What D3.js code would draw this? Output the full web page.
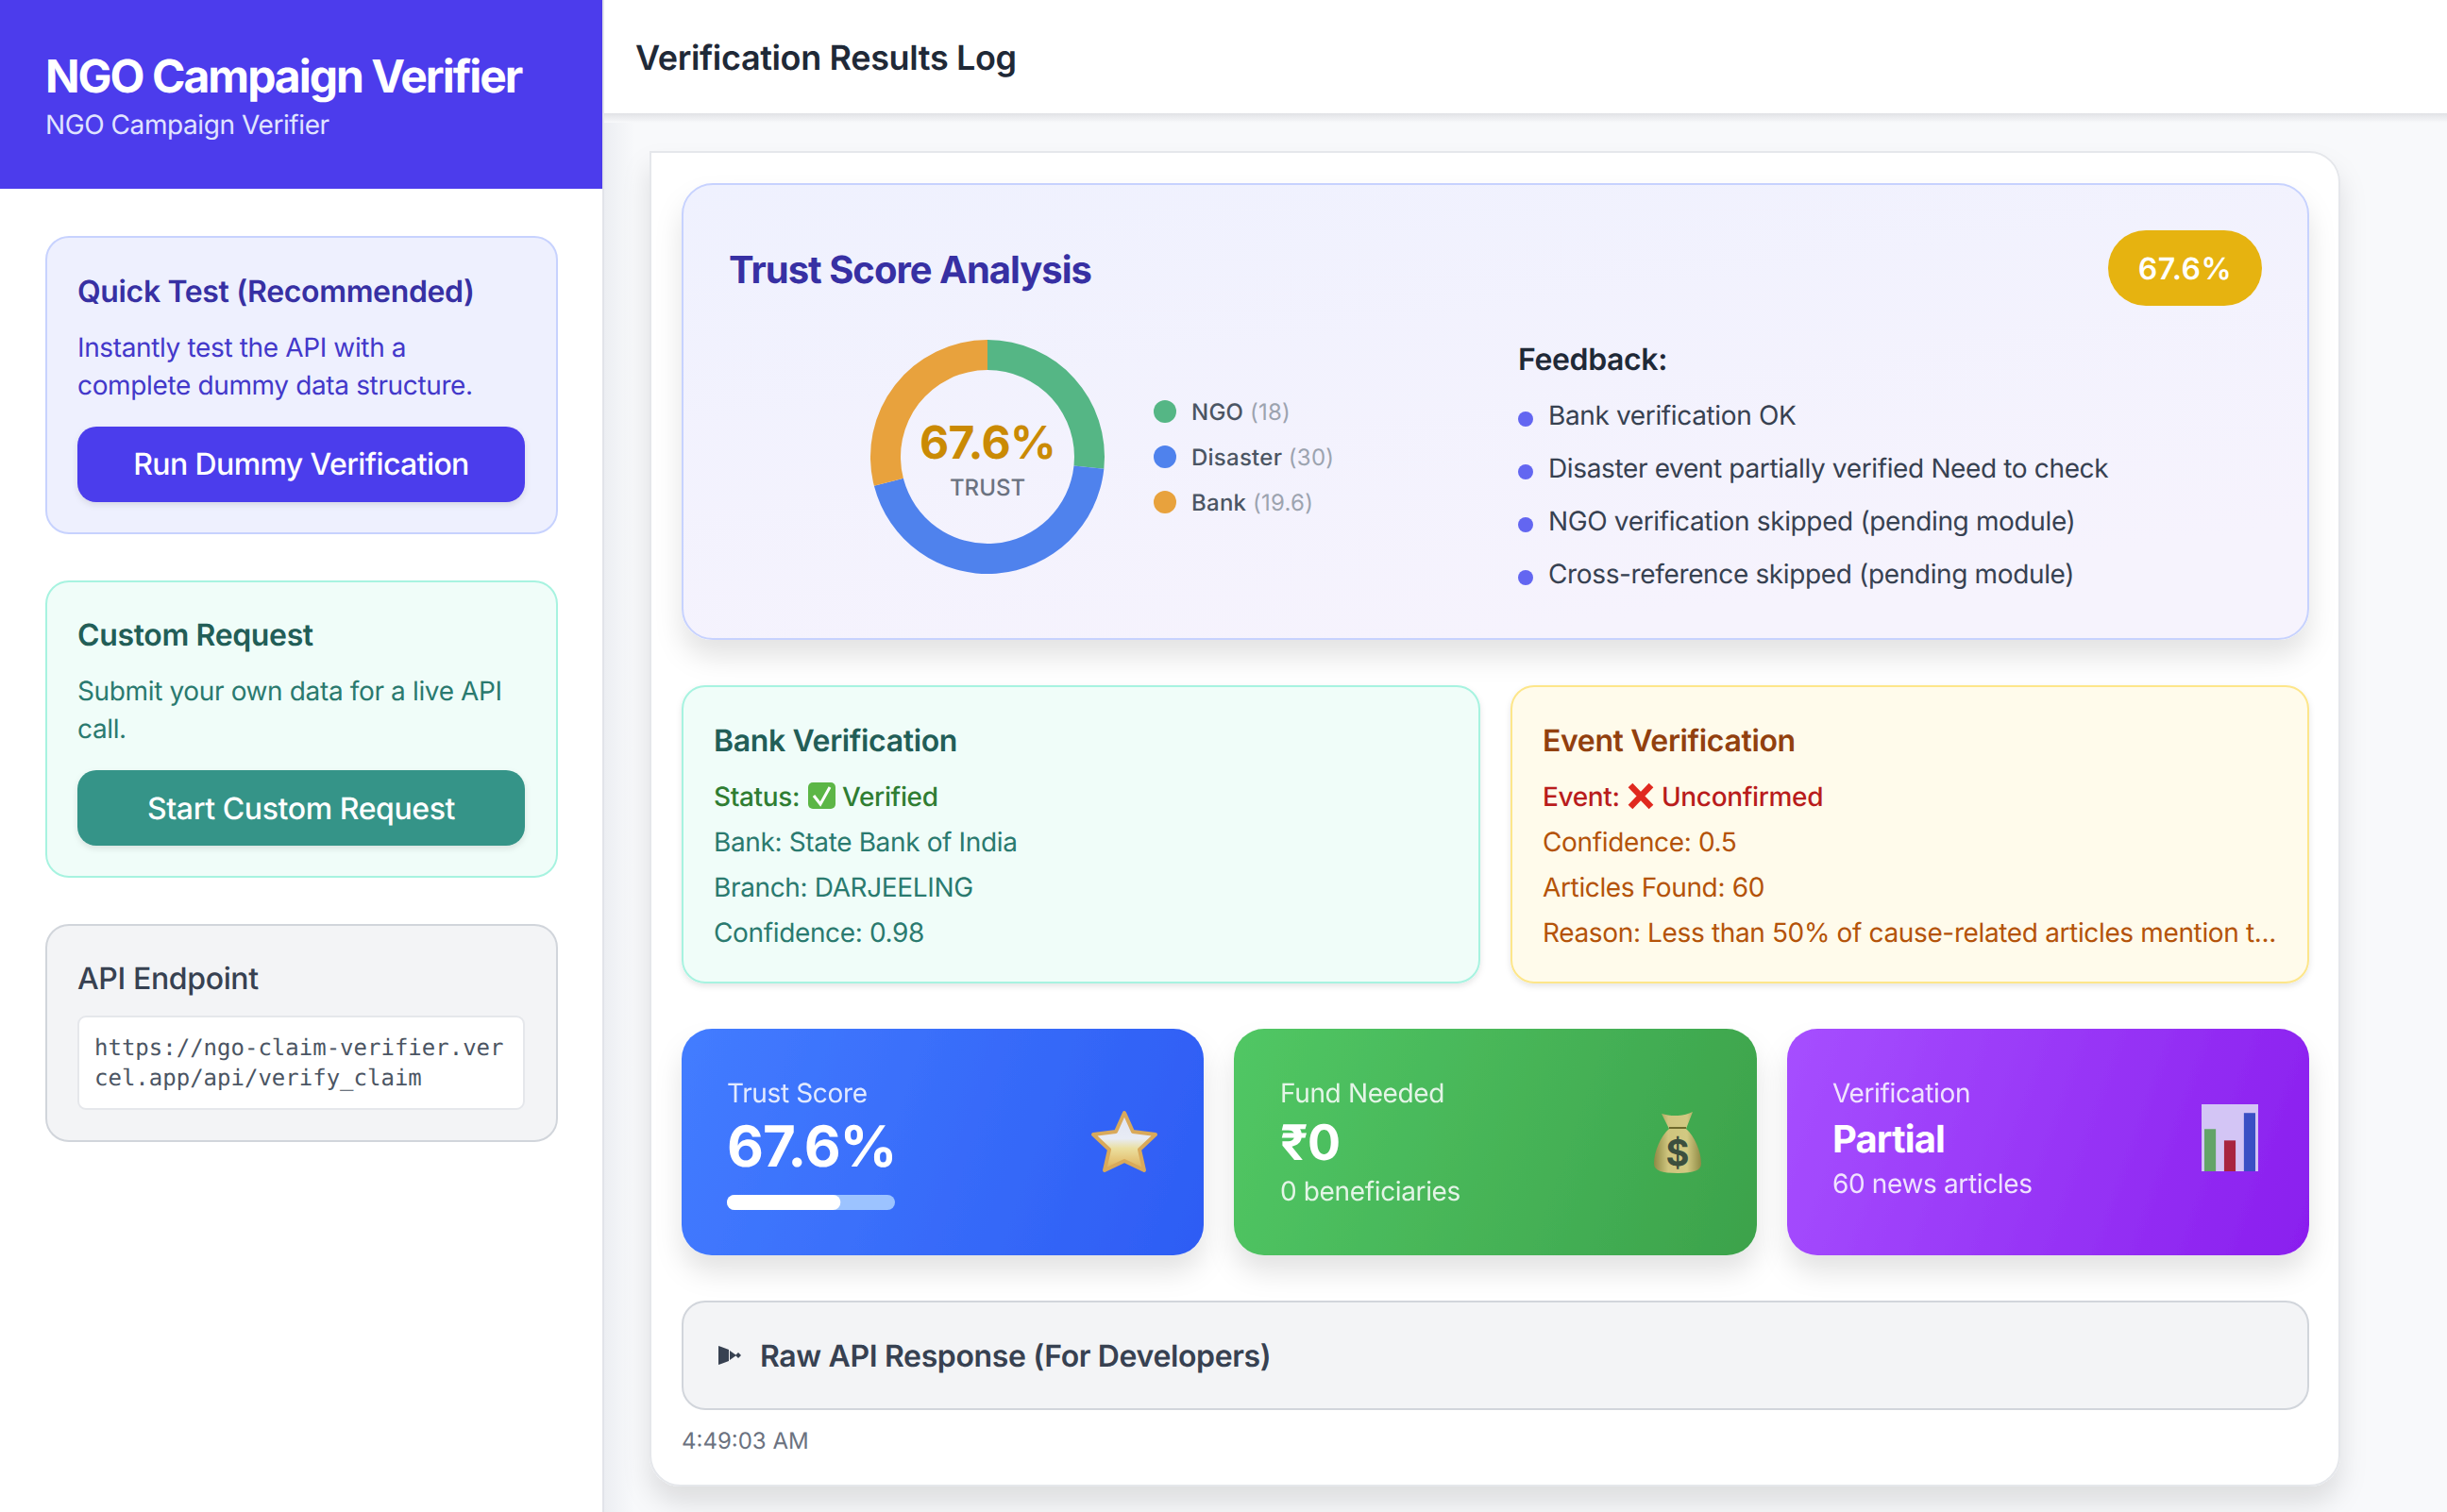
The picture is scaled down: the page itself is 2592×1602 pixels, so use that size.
<!DOCTYPE html>
<html>
<head>
<meta charset="utf-8">
<title>NGO Campaign Verifier</title>
<script src="https://cdn.jsdelivr.net/npm/d3@7"></script>
<style>
    html, body { margin: 0; padding: 0; background: #f8f9fb; overflow: hidden; }
    svg { display: block; font-family: Inter, "Noto Sans", sans-serif; text-rendering: geometricPrecision; }
</style>
</head>
<body>
<div id="chart"></div>
<script>
// trust score parts
const scoreCategories = ["NGO", "Disaster", "Bank"];
const scoreValues = [18, 30, 19.6];
const scoreColors = ["#55b685", "#4f82ed", "#e8a23d"];
const trustScore = 67.6;
const trustLabel = "67.6%";

const feedbackItems = [
    "Bank verification OK",
    "Disaster event partially verified Need to check",
    "NGO verification skipped (pending module)",
    "Cross-reference skipped (pending module)"
];
const bankLines = ["Bank: State Bank of India", "Branch: DARJEELING", "Confidence: 0.98"];
const eventLines = ["Confidence: 0.5", "Articles Found: 60", "Reason: Less than 50% of cause-related articles mention t..."];
const endpointLines = ["https://ngo-claim-verifier.ver", "cel.app/api/verify_claim"];
const iconBars = [0.63, 0.46, 0.87];
const iconBarColors = ["#63a468", "#a8243f", "#3a4fc4"];

const width = 2592;
const height = 1602;

const svg = d3.select("#chart").append("svg")
    .attr("width", width)
    .attr("height", height)
    .attr("viewBox", `0 0 ${width} ${height}`);

const defs = svg.append("defs");

function addShadow(id, dy, blur, opacity) {
    const f = defs.append("filter").attr("id", id)
        .attr("x", "-10%").attr("y", "-20%").attr("width", "120%").attr("height", "150%");
    f.append("feDropShadow")
        .attr("dx", 0).attr("dy", dy)
        .attr("stdDeviation", blur)
        .attr("flood-color", "#000")
        .attr("flood-opacity", opacity);
}
addShadow("shadowLg", 18, 14, 0.11);
addShadow("shadowSm", 3, 3, 0.1);

function addGradient(id, stops, x1, y1, x2, y2, userSpace) {
    const g = defs.append("linearGradient").attr("id", id)
        .attr("x1", x1).attr("y1", y1).attr("x2", x2).attr("y2", y2);
    if (userSpace) g.attr("gradientUnits", "userSpaceOnUse");
    stops.forEach(s => {
        g.append("stop").attr("offset", s[0]).attr("stop-color", s[1]);
    });
}

// left to right sweep with a slight downward tilt, corner to corner
function cardGradient(id, from, to, x0, y0, x1, y1) {
    const tilt = 0.35;
    const cx = (x0 + x1) / 2;
    const cy = (y0 + y1) / 2;
    const k = ((x1 - x0) / 2 + tilt * (y1 - y0) / 2) / (1 + tilt * tilt);
    addGradient(id, [[0, from], [1, to]], cx - k, cy - k * tilt, cx + k, cy + k * tilt, true);
}

addGradient("gradTrust", [[0, "#eff1fe"], [1, "#f6f3fd"]], 0, 0, 0.5, 1);
cardGradient("gradBlue", "#437cff", "#2d5cf4", 722, 1090, 1275, 1330);
cardGradient("gradGreen", "#51c764", "#3ca24b", 1307, 1090, 1861, 1330);
cardGradient("gradPurple", "#a64fff", "#8a1eee", 1893, 1090, 2446, 1330);
addGradient("gradStar", [[0, "#dfe3f2"], [0.45, "#e8ecf5"], [0.62, "#ebdf9f"], [1, "#dfae55"]], 0, 0, 0, 1);
addGradient("gradBag", [[0, "#8f8a45"], [0.3, "#cfc57e"], [0.7, "#d2c982"], [1, "#8f8a45"]], 0, 0, 1, 0);
addGradient("gradSideShade", [[0, "#eceef2"], [1, "#f8f9fb"]], 0, 0, 1, 0);
addGradient("gradHeadShade", [[0, "#dcdde1"], [1, "#f8f9fb"]], 0, 0, 0, 1);

function box(x0, y0, x1, y1, r, fill, stroke, sw, filter) {
    const rect = svg.append("rect")
        .attr("x", x0).attr("y", y0)
        .attr("width", x1 - x0).attr("height", y1 - y0)
        .attr("rx", r).attr("ry", r)
        .attr("fill", fill);
    if (stroke) rect.attr("stroke", stroke).attr("stroke-width", sw);
    if (filter) rect.attr("filter", `url(#${filter})`);
    return rect;
}

function label(x, y, str, size, weight, fill, anchor) {
    return svg.append("text")
        .attr("x", x).attr("y", y)
        .attr("font-size", size)
        .attr("font-weight", weight)
        .attr("fill", fill)
        .attr("text-anchor", anchor || "start")
        .attr("letter-spacing", size >= 28 ? -0.36 : 0)
        .text(str);
}

function shape(points, fill) {
    return svg.append("path")
        .attr("d", d3.line()(points) + "Z")
        .attr("fill", fill);
}

// page frame
svg.append("rect").attr("width", width).attr("height", height).attr("fill", "#f8f9fb");
box(640, 0, 672, 1602, 0, "url(#gradSideShade)");
box(640, 118, 2592, 130, 0, "url(#gradHeadShade)");
box(640, -10, 2602, 120, 0, "#fff");
box(-10, -10, 639, 1612, 0, "#fff", "#e2e4e9", 2);
box(0, 0, 638, 200, 0, "#4c3cec");

label(48, 98, "NGO Campaign Verifier", 48, 700, "#fff").attr("letter-spacing", -2);
label(48, 142, "NGO Campaign Verifier", 28, 400, "#e0e4ff").attr("letter-spacing", -0.42);
label(673, 74, "Verification Results Log", 36, 600, "#1f2937");

// sidebar cards
box(49, 251, 590, 565, 24, "#eef0fe", "#c7d2fe", 2);
label(82, 320, "Quick Test (Recommended)", 32, 600, "#3730a3");
label(82, 378, "Instantly test the API with a", 28, 400, "#4338ca");
label(82, 418, "complete dummy data structure.", 28, 400, "#4338ca");
box(82, 452, 556, 532, 20, "#4c3cec", null, 0, "shadowSm");
label(319, 503, "Run Dummy Verification", 32, 500, "#fff", "middle").attr("letter-spacing", -0.6);

box(49, 616, 590, 929, 24, "#f0fdf9", "#a7f3e0", 2);
label(82, 684, "Custom Request", 32, 600, "#225e57");
label(82, 742, "Submit your own data for a live API", 28, 400, "#2a7a6f");
label(82, 782, "call.", 28, 400, "#2a7a6f");
box(82, 816, 556, 896, 20, "#359488", null, 0, "shadowSm");
label(319, 868, "Start Custom Request", 32, 500, "#fff", "middle").attr("letter-spacing", -0.4);

box(49, 980, 590, 1209, 24, "#f3f4f6", "#d1d5db", 2);
label(82, 1048, "API Endpoint", 32, 500, "#374151");
box(83, 1077, 555, 1175, 8, "#fff", "#e5e7eb", 2);
svg.append("g").selectAll("text")
    .data(endpointLines)
    .enter().append("text")
    .attr("x", 100)
    .attr("y", (d, i) => 1118 + i * 32)
    .attr("font-family", "'DejaVu Sans Mono', monospace")
    .attr("font-size", 24)
    .attr("fill", "#4b5563")
    .text(d => d);

// main panel, top left corner is square in the reference
const panel = d3.path();
panel.moveTo(689, 161);
panel.lineTo(2446, 161);
panel.arcTo(2478, 161, 2478, 193, 32);
panel.lineTo(2478, 1542);
panel.arcTo(2478, 1574, 2446, 1574, 32);
panel.lineTo(721, 1574);
panel.arcTo(689, 1574, 689, 1542, 32);
panel.closePath();
svg.append("path")
    .attr("d", panel.toString())
    .attr("fill", "#fff")
    .attr("stroke", "#e5e7eb")
    .attr("stroke-width", 2)
    .attr("filter", "url(#shadowLg)");

// trust score card
box(723, 195, 2445, 677, 32, "url(#gradTrust)", "#c7d2fe", 2, "shadowLg");
label(772, 300, "Trust Score Analysis", 40, 700, "#3730a3").attr("letter-spacing", -1);
box(2233, 244, 2396, 324, 40, "#e6b310");
label(2314.5, 296, trustLabel, 32, 600, "#fff", "middle").attr("letter-spacing", 0.5);

const pie = d3.pie().sort(null);
const arc = d3.arc().innerRadius(92).outerRadius(124);
const donut = svg.append("g").attr("transform", "translate(1046,484)");
donut.selectAll("path")
    .data(pie(scoreValues))
    .enter().append("path")
    .attr("d", arc)
    .attr("fill", (d, i) => scoreColors[i]);
label(1046, 486, trustLabel, 48, 700, "#ca8a04", "middle").attr("letter-spacing", -0.7);
label(1046, 525, "TRUST", 24, 500, "#6b7280", "middle");

// donut legend
const legend = svg.append("g").selectAll("g")
    .data(scoreCategories)
    .enter().append("g")
    .attr("transform", (d, i) => `translate(1234,${436 + i * 48})`);
legend.append("circle")
    .attr("r", 12)
    .attr("fill", (d, i) => scoreColors[i]);
const legendText = legend.append("text")
    .attr("x", 28)
    .attr("y", 9)
    .attr("font-size", 24)
    .attr("font-weight", 500)
    .attr("letter-spacing", 0.25)
    .attr("fill", "#4b5563")
    .text(d => d + " ");
legendText.append("tspan")
    .attr("font-weight", 400)
    .attr("fill", "#9ca3af")
    .text((d, i) => `(${scoreValues[i]})`);

// feedback list
label(1608, 392, "Feedback:", 32, 600, "#1f2937");
const feedback = svg.append("g").selectAll("g")
    .data(feedbackItems)
    .enter().append("g")
    .attr("transform", (d, i) => `translate(0,${i * 56})`);
feedback.append("circle")
    .attr("cx", 1616).attr("cy", 444).attr("r", 8)
    .attr("fill", "#6366f1");
feedback.append("text")
    .attr("x", 1640).attr("y", 450)
    .attr("font-size", 28)
    .attr("letter-spacing", -0.36)
    .attr("fill", "#374151")
    .text(d => d);

// bank card
box(723, 727, 1567, 1041, 24, "#f0fdf9", "#a7f3e0", 2, "shadowSm");
label(756, 796, "Bank Verification", 32, 600, "#225e57");
label(756, 854, "Status:", 28, 500, "#2f7d32");
box(856, 829, 885, 857, 5, "#5cb646");
svg.append("path")
    .attr("d", d3.line()([[862, 843], [869, 852], [879, 834]]))
    .attr("fill", "none").attr("stroke", "#fff").attr("stroke-width", 3);
label(892, 854, "Verified", 28, 500, "#2f7d32");
bankLines.forEach((t, i) => label(756, 902 + i * 48, t, 28, 400, "#2a7a6f"));

// event card
box(1601, 727, 2445, 1041, 24, "#fffbeb", "#fde68a", 2, "shadowSm");
label(1634, 796, "Event Verification", 32, 600, "#92400e");
label(1634, 854, "Event:", 28, 500, "#b91c1c");
svg.append("path")
    .attr("d", "M1727,832L1749,855M1749,832L1727,855")
    .attr("fill", "none").attr("stroke", "#e0291f").attr("stroke-width", 6.5);
label(1760, 854, "Unconfirmed", 28, 500, "#b91c1c");
eventLines.forEach((t, i) => label(1634, 902 + i * 48, t, 28, 400, "#b45309"));

// metric cards
box(722, 1090, 1275, 1330, 32, "url(#gradBlue)", null, 0, "shadowLg");
box(1307, 1090, 1861, 1330, 32, "url(#gradGreen)", null, 0, "shadowLg");
box(1893, 1090, 2446, 1330, 32, "url(#gradPurple)", null, 0, "shadowLg");

label(770, 1168, "Trust Score", 28, 400, "#fff").attr("opacity", 0.85);
label(770, 1236, trustLabel, 60, 700, "#fff").attr("letter-spacing", -1);
const progress = d3.scaleLinear().domain([0, 100]).range([0, 178]);
box(770, 1266, 770 + progress(100), 1282, 8, "#9cc3ff");
box(770, 1266, 770 + progress(trustScore), 1282, 8, "#fff");

// star icon
shape([[1191, 1179], [1200, 1199], [1224, 1202], [1207, 1218], [1212, 1240], [1191, 1230],
       [1170, 1240], [1175, 1218], [1158, 1202], [1182, 1199]], "url(#gradStar)")
    .attr("stroke", "#d9a95a")
    .attr("stroke-width", 4)
    .attr("stroke-linejoin", "round");

label(1356, 1168, "Fund Needed", 28, 400, "#fff").attr("opacity", 0.85);
label(1356, 1229, "₹0", 52, 700, "#fff").attr("letter-spacing", -0.6);
label(1356, 1272, "0 beneficiaries", 28, 400, "#fff").attr("opacity", 0.85);

// money bag icon
svg.append("path")
    .attr("d", "M1760,1180C1770,1183 1783,1183 1793,1178L1786,1196C1795,1204 1802,1220 1802,1233C1802,1240 1794,1243 1777,1243C1760,1243 1752,1240 1752,1233C1752,1220 1759,1204 1768,1196Z")
    .attr("fill", "url(#gradBag)");
svg.append("path")
    .attr("d", "M1768,1195L1786,1195")
    .attr("stroke", "#6f6a2c").attr("stroke-width", 2);
svg.append("text")
    .attr("x", 1777).attr("y", 1235)
    .attr("text-anchor", "middle")
    .attr("font-size", 38)
    .attr("font-weight", 700)
    .attr("fill", "#3c4f3e")
    .text("$");

label(1941, 1168, "Verification", 28, 400, "#fff").attr("opacity", 0.85);
label(1941, 1221, "Partial", 40, 700, "#fff").attr("letter-spacing", -0.9);
label(1941, 1264, "60 news articles", 28, 400, "#fff").attr("opacity", 0.85);

// bar chart icon
box(2332, 1170, 2392, 1241, 0, "#d3c5f5");
const iconX = d3.scaleBand().domain(d3.range(iconBars.length)).range([2335, 2389]).paddingInner(0.42);
const iconY = d3.scaleLinear().domain([0, 1]).range([1241, 1170]);
svg.append("g").selectAll("rect")
    .data(iconBars)
    .enter().append("rect")
    .attr("x", (d, i) => iconX(i))
    .attr("y", d => iconY(d))
    .attr("width", iconX.bandwidth())
    .attr("height", d => iconY(0) - iconY(d))
    .attr("fill", (d, i) => iconBarColors[i]);

// raw response row
box(723, 1379, 2445, 1493, 24, "#f3f4f6", "#d1d5db", 2);
shape([[761, 1426], [772, 1430], [772, 1442], [761, 1446]], "#374151");
shape([[773, 1431], [780, 1436], [773, 1441]], "#374151");
shape([[779, 1436], [782, 1433], [785, 1436], [782, 1439]], "#374151");
label(805, 1448, "Raw API Response (For Developers)", 32, 600, "#374151");
label(722, 1535, "4:49:03 AM", 24, 400, "#6b7280");
</script>
</body>
</html>
